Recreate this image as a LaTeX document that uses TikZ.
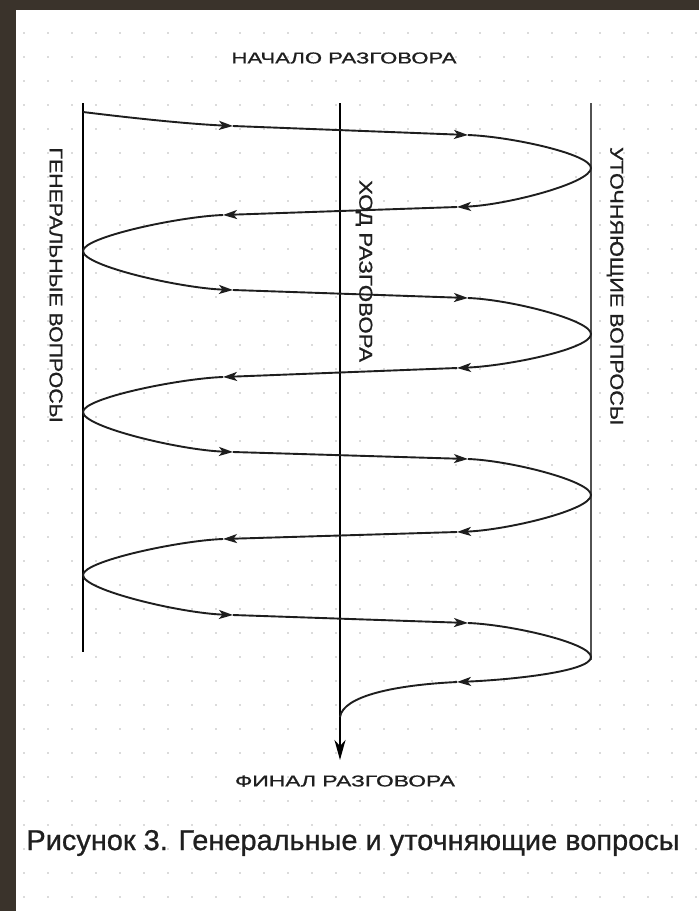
\documentclass[tikz,border=0pt]{standalone}
\usepackage{fontspec}
\setmainfont{Liberation Sans}
\newfontfamily\heavy{Liberation Sans}[FakeBold=0.8]
\usetikzlibrary{arrows.meta}
\definecolor{framecol}{RGB}{58,51,43}
\definecolor{ink}{RGB}{30,30,30}
\begin{document}
\begin{tikzpicture}[x=1pt,y=-1pt,
  spiral/.style={draw=ink, line width=1.9pt},
  sarrow/.style={spiral, -{Stealth[length=14pt,width=9pt,inset=3.5pt]}},
  axisline/.style={draw=black, line width=2.1pt},
  lbl/.style={inner sep=0pt, text=black!88, font=\heavy}]
\useasboundingbox (0,0) rectangle (699,911);
\fill[white] (0,0) rectangle (699,911);
% dotted paper
\foreach \i in {0,...,28} {
  \foreach \j in {0,...,37} {
    \fill[black!28] ({24+24*\i},{9+24*\j}) circle (0.9pt);
  }
}
% dark frame (left and top)
\fill[framecol] (0,0) rectangle (16,911);
\fill[framecol] (0,0) rectangle (699,10);

% axes
\coordinate (Ltop) at (83,103); \coordinate (Lbot) at (83,652);
\coordinate (Mtop) at (340,103); \coordinate (Mbot) at (340,760);
\coordinate (Rtop) at (591,103); \coordinate (Rbot) at (591,660);
\draw[axisline] (Ltop) -- (Lbot);
\draw[axisline, draw=black!68, line width=2.6pt] (Rtop) -- (Rbot);
\draw[axisline, -{Stealth[length=20pt,width=11pt,inset=6pt]}] (Mtop) -- (Mbot);

% spiral: first pass
\coordinate (S) at (83,112);
\coordinate (A0) at (233,126);
\coordinate (B0) at (468,135);
\coordinate (T0) at (591,168);
\draw[sarrow] (S) .. controls (140,119) and (190,124) .. (A0);
\draw[sarrow] (A0) -- (B0);
\draw[spiral] (B0) .. controls (510,136.5) and (591,154) .. (T0);

% rightward passes
\foreach \ya/\aa/\ab/\yb in {251/290/298/334, 412/452/459/495, 575/615/623/657} {
  \draw[sarrow] (83,\ya) .. controls (83,\ya+15) and (180,\aa-2) .. (233,\aa);
  \draw[sarrow] (233,\aa) -- (468,\ab);
  \draw[spiral] (468,\ab) .. controls (510,\ab+1.5) and (591,\yb-14) .. (591,\yb);
}
% leftward passes
\foreach \ya/\aa/\ab/\yb in {168/207/215/251, 334/368/377/412, 495/532/539/575} {
  \draw[sarrow] (591,\ya) .. controls (591,\ya+15) and (507,\aa-2) .. (457,\aa);
  \draw[sarrow] (457,\aa) -- (223,\ab);
  \draw[spiral] (223,\ab) .. controls (180,\ab+1.5) and (83,\yb-14) .. (83,\yb);
}
% last pass into the main axis
\coordinate (T7) at (591,657);
\coordinate (A7) at (457,682);
\coordinate (E) at (340,717);
\draw[sarrow] (T7) .. controls (591,672) and (507,680) .. (A7);
\draw[spiral] (A7) .. controls (395,685) and (343,696) .. (E);

% labels
\node[lbl] (start) at (344,58) {\resizebox{225pt}{11pt}{НАЧАЛО РАЗГОВОРА}};
\node[lbl] (finish) at (345,781) {\resizebox{220pt}{11pt}{ФИНАЛ РАЗГОВОРА}};
\node[lbl, rotate=-90] (gen) at (56,285) {\resizebox{275pt}{13pt}{ГЕНЕРАЛЬНЫЕ ВОПРОСЫ}};
\node[lbl, rotate=-90] (hod) at (364,271) {\resizebox{182pt}{13pt}{ХОД РАЗГОВОРА}};
\node[lbl, rotate=-90] (utoch) at (615,286) {\resizebox{278pt}{13pt}{УТОЧНЯЮЩИЕ ВОПРОСЫ}};
\node[lbl] (caption) at (353,843) {\resizebox{653pt}{20pt}{Рисунок 3. Генеральные и уточняющие вопросы}};
\end{tikzpicture}
\end{document}
